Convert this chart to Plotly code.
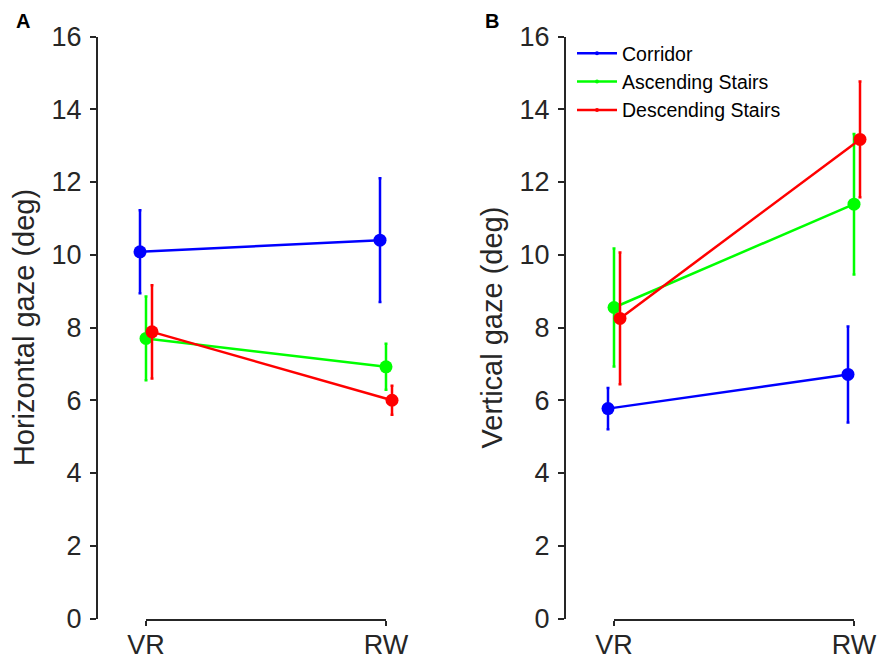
import plotly.graph_objects as go

# ---------------- data ----------------
categories = ["VR", "RW"]
series_names = ["Corridor", "Ascending Stairs", "Descending Stairs"]
series_colors = ["#0000FF", "#00FF00", "#FF0000"]

# Panel A: horizontal gaze (deg)
horiz_corridor = [10.08, 10.40]
horiz_corridor_err = [1.14, 1.70]
horiz_ascending = [7.70, 6.92]
horiz_ascending_err = [1.15, 0.63]
horiz_descending = [7.88, 6.00]
horiz_descending_err = [1.28, 0.40]

# Panel B: vertical gaze (deg)
vert_corridor = [5.77, 6.71]
vert_corridor_err = [0.57, 1.32]
vert_ascending = [8.55, 11.39]
vert_ascending_err = [1.62, 1.93]
vert_descending = [8.25, 13.17]
vert_descending_err = [1.81, 1.59]

y_ticks = [0, 2, 4, 6, 8, 10, 12, 14, 16]

# ---------------- layout geometry ----------------
W, H = 877, 664
AX = "#262626"
FONT = "Liberation Sans, Arial, Helvetica, sans-serif"
jitter = [-0.025, 0.0, 0.025]
base_x = [i + 1 for i in range(len(categories))]
px_per_unit = 240.0
x_lo = 0.8

y_dom = [1 - 618.5 / H, 1 - 36.5 / H]

def panel_geom(axis_px):
    left = axis_px / W
    right_px = min(W, axis_px + 1.3 * px_per_unit)
    right = right_px / W
    x_hi = x_lo + (right_px - axis_px) / px_per_unit
    disp_left = (axis_px + (base_x[0] - x_lo) * px_per_unit) / W
    disp_right = (axis_px + (base_x[-1] - x_lo) * px_per_unit) / W
    return [left, right], [x_lo, x_hi], [disp_left, disp_right]

domA, rngA, dispA = panel_geom(98)
domB, rngB, dispB = panel_geom(566)

fig = go.Figure()

panels = [
    ("x", "y", [(horiz_corridor, horiz_corridor_err),
                (horiz_ascending, horiz_ascending_err),
                (horiz_descending, horiz_descending_err)]),
    ("x2", "y2", [(vert_corridor, vert_corridor_err),
                  (vert_ascending, vert_ascending_err),
                  (vert_descending, vert_descending_err)]),
]

for xa, ya, series in panels:
    for k, (vals, errs) in enumerate(series):
        xs = [b + jitter[k] for b in base_x]
        fig.add_trace(go.Scatter(
            x=xs, y=vals, xaxis=xa, yaxis=ya,
            mode="lines+markers",
            line=dict(color=series_colors[k], width=2.5),
            marker=dict(color=series_colors[k], size=13),
            error_y=dict(type="data", array=errs, visible=True,
                         color=series_colors[k], thickness=2.5, width=1.5),
            showlegend=False, hoverinfo="skip", cliponaxis=False,
        ))

# legend-only entries (small dot markers like the original)
for k, name in enumerate(series_names):
    fig.add_trace(go.Scatter(
        x=[None], y=[None], xaxis="x2", yaxis="y2",
        mode="lines+markers", name=name,
        line=dict(color=series_colors[k], width=2.5),
        marker=dict(color=series_colors[k], size=4),
        showlegend=True, hoverinfo="skip",
    ))

# dummy traces so the category axes are drawn
for xa, ya in [("x3", "y"), ("x4", "y2")]:
    fig.add_trace(go.Scatter(x=base_x, y=[None] * len(base_x), xaxis=xa, yaxis=ya,
                             mode="markers", showlegend=False, hoverinfo="skip"))

yax_common = dict(range=[0, 16], tickvals=y_ticks, showline=True, linecolor=AX,
                  linewidth=2, ticks="outside", ticklen=6, tickwidth=2, tickcolor=AX,
                  showgrid=False, zeroline=False, domain=y_dom, automargin=False,
                  ticklabelstandoff=3,
                  tickfont=dict(size=27, color=AX, family=FONT))
xdisp_common = dict(range=[base_x[0], base_x[-1]], tickvals=base_x, ticktext=categories,
                    showline=True, linecolor=AX, linewidth=2, ticks="outside",
                    ticklen=5, tickwidth=2, tickcolor=AX, showgrid=False,
                    zeroline=False, automargin=False, ticklabelstandoff=-4,
                    tickfont=dict(size=27, color=AX, family=FONT))

fig.update_layout(
    template="none",
    width=W, height=H,
    margin=dict(l=0, r=0, t=0, b=0, pad=0),
    paper_bgcolor="white", plot_bgcolor="rgba(0,0,0,0)",
    font=dict(family=FONT, color=AX),
    xaxis=dict(domain=domA, range=rngA, visible=False, anchor="y", automargin=False),
    xaxis2=dict(domain=domB, range=rngB, visible=False, anchor="y2", automargin=False),
    xaxis3=dict(domain=dispA, anchor="y", **xdisp_common),
    xaxis4=dict(domain=dispB, anchor="y2", **xdisp_common),
    yaxis=dict(anchor="x", title=dict(text="Horizontal gaze (deg)", standoff=8,
               font=dict(size=29, color=AX, family=FONT)), **yax_common),
    yaxis2=dict(anchor="x2", title=dict(text="Vertical gaze (deg)", standoff=8,
                font=dict(size=29, color=AX, family=FONT)), **yax_common),
    legend=dict(x=572 / W, y=1 - 34 / H, xanchor="left", yanchor="top",
                bgcolor="rgba(0,0,0,0)", borderwidth=0,
                font=dict(size=19.5, color="#000000", family=FONT),
                itemwidth=40, tracegroupgap=0),
    showlegend=True,
    hovermode=False,
    annotations=[
        dict(text="<b>A</b>", x=14 / W, y=1 - 8 / H, xref="paper", yref="paper",
             xanchor="left", yanchor="top", showarrow=False,
             font=dict(size=20, color="#000000", family=FONT)),
        dict(text="<b>B</b>", x=483 / W, y=1 - 8 / H, xref="paper", yref="paper",
             xanchor="left", yanchor="top", showarrow=False,
             font=dict(size=20, color="#000000", family=FONT)),
    ],
)

fig.write_html("out.html")
